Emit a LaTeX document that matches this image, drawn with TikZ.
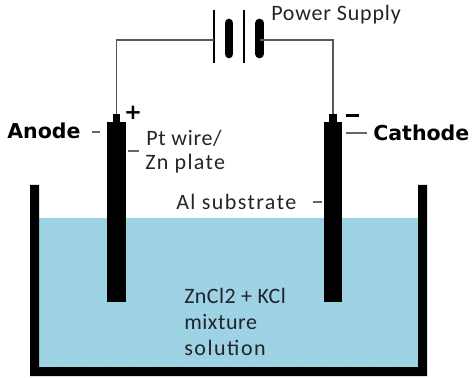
\documentclass[tikz,border=0pt]{standalone}
\usepackage{fontspec}
\setmainfont{Carlito}
\newfontfamily\boldlabel{DejaVu Sans}[BoldFont={DejaVu Sans Bold}]
\definecolor{water}{HTML}{9DD2E4}
\definecolor{speck}{HTML}{B4F0EC}
\definecolor{ink}{HTML}{23232B}
\tikzset{
  x=0.75pt,y=-0.75pt,
  solid part/.style={fill=black,draw=none},
  wire/.style={draw=black!65,line width=1pt},
  tick/.style={draw=black!60,line width=0.8pt},
  label text/.style={inner sep=0pt,anchor=west,text=ink,font=\fontsize{16.5}{20}\selectfont\addfontfeature{LetterSpace=#1}},
  label text/.default=3,
  strong text/.style={inner sep=0pt,anchor=west,text=black,font=\boldlabel\bfseries\fontsize{15.4}{18}\selectfont},
  plate/.style={draw=black,line width=2.2pt},
  thick plate/.style={draw=black,line width=6.5pt,line cap=round},
  rod/.style={fill=black,draw=none,inner sep=0pt,minimum width=14.2pt,minimum height=135pt},
  rod cap/.style={fill=black,draw=none,inner sep=0pt,minimum width=5.6pt,minimum height=6pt}
}
\begin{document}
\begin{tikzpicture}
\useasboundingbox (0,0) rectangle (472,378);
% solution
\fill[water] (39,218.5) rectangle (418,367);
\foreach \r in {0,...,24}{
  \foreach \c in {0,...,62}{
    \pgfmathsetmacro{\px}{42+\c*6+mod(\r,2)*3}
    \pgfmathsetmacro{\py}{222+\r*6}
    \fill[speck] (\px,\py) circle[radius=0.45pt];
  }
}
% tank
\fill[solid part] (30,185) -- (39,185) -- (39,367) -- (418,367) -- (418,185) -- (427,185) -- (427,376) -- (30,376) -- cycle;
% electrodes
\node[rod] (anode) at (116.5,212) {};
\node[rod cap] (anodecap) at (116.5,118) {};
\node[rod] (cathode) at (333,212) {};
\node[rod cap] (cathodecap) at (333,118) {};
% battery
\coordinate (p1a) at (214,10); \coordinate (p1b) at (214,63);
\coordinate (p2a) at (229,23); \coordinate (p2b) at (229,54);
\coordinate (p3a) at (244,10); \coordinate (p3b) at (244,63);
\coordinate (p4a) at (259.5,23); \coordinate (p4b) at (259.5,54);
\coordinate (left) at (214,40); \coordinate (right) at (259.5,40);
\draw[plate] (p1a) -- (p1b);
\draw[thick plate] (p2a) -- (p2b);
\draw[plate] (p3a) -- (p3b);
\draw[thick plate] (p4a) -- (p4b);
% wires
\draw[wire] (left) -| (anodecap.north);
\draw[wire] (right) -| (cathodecap.north);
% labels
\node[label text=3.7] (ps) at (271,14.5) {Power Supply};
\node[strong text] (an) at (7,131) {Anode};
\node[strong text] (ca) at (373,133) {Cathode};
\node[label text=3] (pt) at (146,138) {Pt wire/};
\node[label text=6] (zn) at (145,164) {Zn plate};
\node[label text=6.5] (al) at (176,202) {Al substrate};
\node[label text=2] (mix1) at (184,296) {ZnCl2 + KCl};
\node[label text=2.5] (mix2) at (184,322) {mixture};
\node[label text=7] (mix3) at (184,348) {solution};
\node[inner sep=0pt,font=\boldlabel\bfseries\fontsize{16}{16}\selectfont] (plus) at (133,113) {+};
% ticks
\coordinate (t1a) at (92,132); \coordinate (t1b) at (100,132);
\coordinate (t2a) at (128,151); \coordinate (t2b) at (139,151);
\coordinate (t3a) at (346,133); \coordinate (t3b) at (367,133);
\coordinate (t4a) at (313,202); \coordinate (t4b) at (322,202);
\coordinate (m1) at (346,115.5); \coordinate (m2) at (359,115.5);
\draw[tick] (t1a) -- (t1b);
\draw[tick] (t2a) -- (t2b);
\draw[tick] (t3a) -- (t3b);
\draw[tick] (t4a) -- (t4b);
\draw[black,line width=1.8pt] (m1) -- (m2);
\end{tikzpicture}
\end{document}
